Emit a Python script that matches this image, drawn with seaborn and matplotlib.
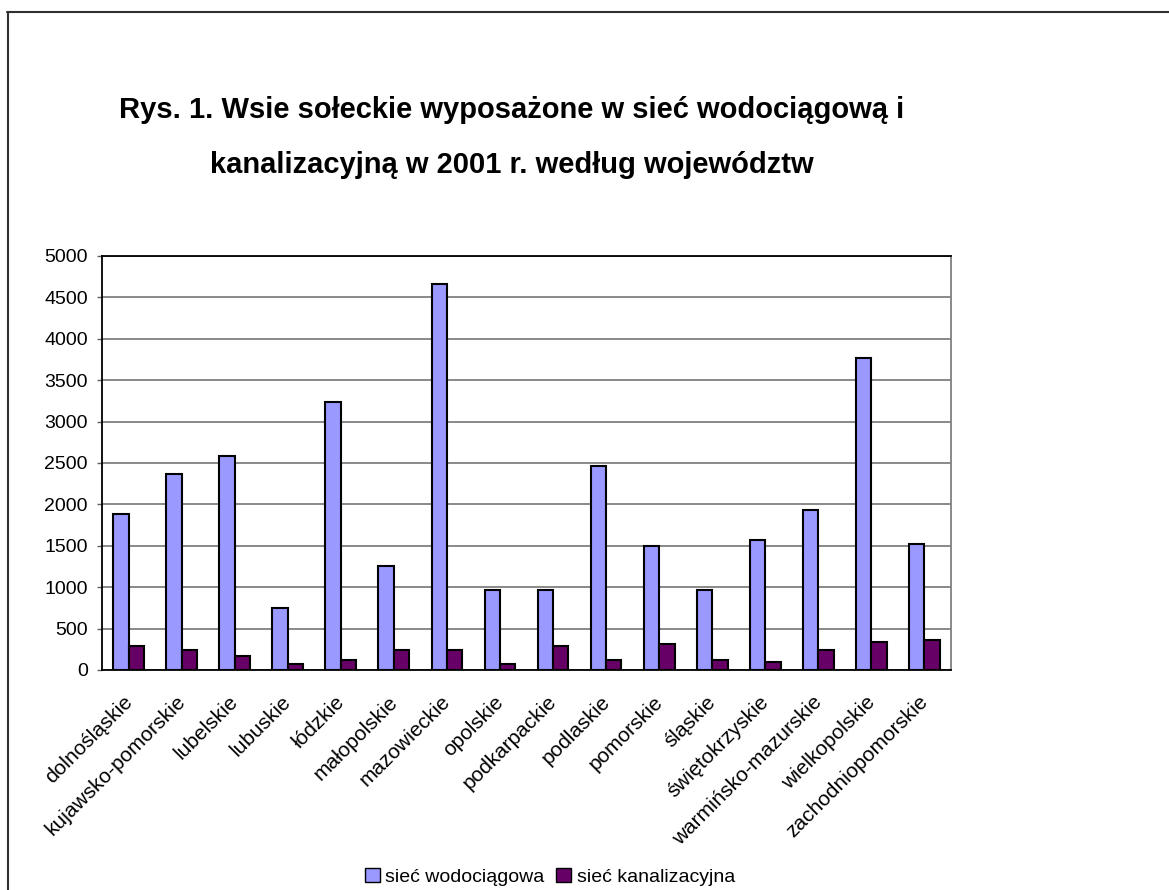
import matplotlib
matplotlib.use("Agg")
import matplotlib.pyplot as plt
import matplotlib.transforms as mtransforms
from matplotlib import font_manager
import seaborn as sns
import pandas as pd
import numpy as np
from matplotlib.lines import Line2D
from matplotlib.patches import Patch

sns.set_style("white")
plt.rcParams['font.family'] = ['Liberation Sans', 'DejaVu Sans']
plt.rcParams['text.color'] = 'black'
plt.rcParams['xtick.labelcolor'] = 'black'
plt.rcParams['ytick.labelcolor'] = 'black'

names = {f.name for f in font_manager.fontManager.ttflist}
narrow = 'Liberation Sans Narrow' in names

categories = ["dolnośląskie", "kujawsko-pomorskie", "lubelskie", "lubuskie", "łódzkie",
              "małopolskie", "mazowieckie", "opolskie", "podkarpackie", "podlaskie",
              "pomorskie", "śląskie", "świętokrzyskie", "warmińsko-mazurskie",
              "wielkopolskie", "zachodniopomorskie"]
wodociagowa = [1880, 2365, 2580, 750, 3235, 1255, 4660, 965, 965, 2460,
               1495, 965, 1570, 1930, 3770, 1520]
kanalizacyjna = [295, 245, 175, 75, 125, 245, 245, 75, 295, 125,
                 320, 125, 100, 245, 340, 365]
series_names = ["sieć wodociągowa", "sieć kanalizacyjna"]
colors = ["#9999FF", "#660066"]
yticks = list(range(0, 5001, 500))

df = pd.DataFrame({
    "woj": categories * 2,
    "val": wodociagowa + kanalizacyjna,
    "seria": [series_names[0]] * len(categories) + [series_names[1]] * len(categories),
})

W, H = 1169, 890
fig = plt.figure(figsize=(W / 100, H / 100), dpi=100)
ax = fig.add_axes([102 / W, 1 - 670 / H, (951 - 102) / W, (670 - 256) / H])

sns.barplot(data=df, x="woj", y="val", hue="seria", order=categories,
            hue_order=series_names, palette=colors, width=0.58, gap=0,
            edgecolor="black", linewidth=1.5, ax=ax, legend=False, saturation=1)

ax.set_ylim(0, 5000)
ax.set_xlim(-0.5, len(categories) - 0.5)
ax.set_yticks(yticks)
ax.set_yticklabels([str(t) for t in yticks], fontsize=14)
ax.yaxis.grid(True, color="#808080", linewidth=1.3)
ax.set_axisbelow(True)
ax.set_xlabel("")
ax.set_ylabel("")

ax.set_xticks(np.arange(len(categories)))
ax.set_xticklabels(categories, rotation=45, ha="right", rotation_mode="anchor", fontsize=15)
ax.tick_params(axis="x", which="major", length=0, pad=16)
offset = mtransforms.ScaledTranslation(-6 / 100, 0, fig.dpi_scale_trans)
for lbl in ax.get_xticklabels():
    lbl.set_transform(lbl.get_transform() + offset)
ax.set_xticks(np.arange(len(categories) + 1) - 0.5, minor=True)
ax.tick_params(axis="x", which="minor", length=4.3, width=1, color="black", direction="out")
ax.tick_params(axis="y", length=3.6, width=1, color="#606060", direction="out", pad=6.5, left=True)

for side in ["left", "bottom", "top"]:
    ax.spines[side].set_visible(True)
    ax.spines[side].set_color("black")
    ax.spines[side].set_linewidth(1.3)
ax.spines["right"].set_visible(True)
ax.spines["right"].set_color("#808080")
ax.spines["right"].set_linewidth(1.3)

if narrow:
    tfam = ['Liberation Sans Narrow', 'Liberation Sans', 'DejaVu Sans']
    tsize = 25
else:
    tfam = ['Liberation Sans', 'DejaVu Sans']
    tsize = 21
fig.text(512 / W, 1 - 110 / H, "Rys. 1. Wsie sołeckie wyposażone w sieć wodociągową i",
         ha="center", va="center", fontsize=tsize, fontweight="bold", color="black", family=tfam)
fig.text(512 / W, 1 - 165 / H, "kanalizacyjną w 2001 r. według województw",
         ha="center", va="center", fontsize=tsize, fontweight="bold", color="black", family=tfam)

handles = [Patch(facecolor=c, edgecolor="black", linewidth=1) for c in colors]
fig.legend(handles, series_names, loc="center", bbox_to_anchor=(550 / W, 1 - 877 / H),
           ncol=2, frameon=False, fontsize=14, handlelength=0.75, handleheight=0.75,
           handletextpad=0.3, columnspacing=0.6)

fig.add_artist(Line2D([7 / W, 1], [1 - 11.5 / H, 1 - 11.5 / H], transform=fig.transFigure,
                      color="#303030", linewidth=1.5))
fig.add_artist(Line2D([7.5 / W, 7.5 / W], [0, 1 - 11.5 / H], transform=fig.transFigure,
                      color="#303030", linewidth=1.5))

fig.savefig("out.png", dpi=100)
